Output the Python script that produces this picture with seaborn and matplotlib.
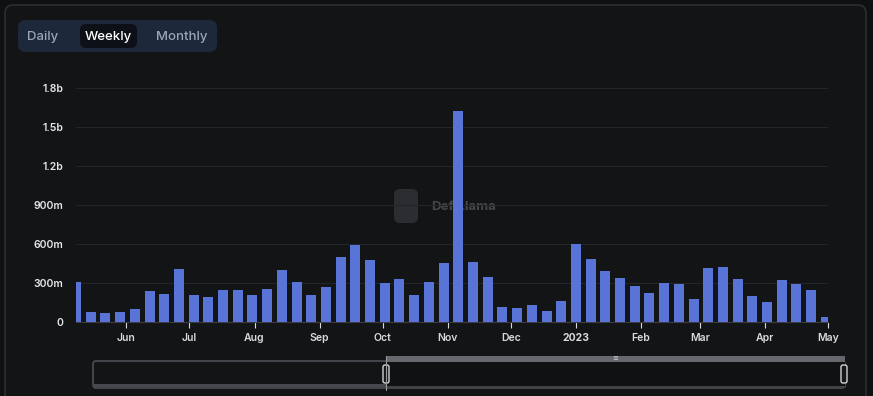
import numpy as np
import pandas as pd
import matplotlib
matplotlib.use("Agg")
import matplotlib.pyplot as plt
import matplotlib.dates as mdates
import seaborn as sns
from matplotlib.patches import FancyBboxPatch, Rectangle

# ---------------- data ----------------
first_week = "2022-05-08"
volumes_m = [310, 75, 70, 80, 100, 240, 215, 410, 210, 195, 250, 250, 210,
             255, 400, 308, 210, 270, 500, 592, 477, 300, 330, 210, 305, 455,
             1625, 462, 346, 115, 108, 130, 85, 162, 600, 485, 392, 338, 277,
             223, 300, 292, 177, 415, 423, 330, 200, 154, 323, 292, 246, 38]
y_ticks_m = [0, 300, 600, 900, 1200, 1500, 1800]
y_tick_labels = ["0", "300m", "600m", "900m", "1.2b", "1.5b", "1.8b"]
x_tick_dates = ["2022-06-01", "2022-07-01", "2022-08-01", "2022-09-01",
                "2022-10-01", "2022-11-01", "2022-12-01", "2023-01-01",
                "2023-02-01", "2023-03-01", "2023-04-01", "2023-05-01"]
x_tick_labels = ["Jun", "Jul", "Aug", "Sep", "Oct", "Nov", "Dec", "2023",
                 "Feb", "Mar", "Apr", "May"]
toggle_labels = ["Daily", "Weekly", "Monthly"]

weeks = pd.date_range(first_week, periods=len(volumes_m), freq="7D")
df = pd.DataFrame({"x": mdates.date2num(weeks),
                   "volume": np.array(volumes_m, dtype=float) * 1e6})

# ---------------- style ----------------
sns.set_theme(style="dark")
plt.rcParams["font.family"] = ["Inter", "DejaVu Sans"]

W, H = 873, 396
FIG_BG = "#0f1012"
CARD_BG = "#131416"
BAR = "#5874d6"

fig = plt.figure(figsize=(W / 100, H / 100), dpi=100, facecolor=FIG_BG)

# background / decoration axes in pixel coordinates
bg = fig.add_axes([0, 0, 1, 1], zorder=0)
bg.set_xlim(0, W)
bg.set_ylim(H, 0)
bg.axis("off")
bg.add_patch(FancyBboxPatch((5, 5), 861, 420, boxstyle="round,pad=0,rounding_size=8",
                            facecolor=CARD_BG, edgecolor="#2c2e33", lw=1.2))
# toggle group
bg.add_patch(FancyBboxPatch((18, 20), 199, 32, boxstyle="round,pad=0,rounding_size=8",
                            facecolor="#1d293a", edgecolor="none"))
bg.add_patch(FancyBboxPatch((80, 24), 57, 24, boxstyle="round,pad=0,rounding_size=6",
                            facecolor="#0d1117", edgecolor="none"))
for lbl, xc, col in zip(toggle_labels, [43, 108, 182], ["#9aa6b8", "#ffffff", "#9aa6b8"]):
    bg.text(xc, 37, lbl, ha="center", va="center", color=col, fontsize=9.5,
            fontweight="medium")

# watermark
bg.add_patch(FancyBboxPatch((394, 189), 24, 34, boxstyle="round,pad=0,rounding_size=6",
                            facecolor="#2c2d30", edgecolor="none"))
bg.text(431, 207, "DefiLlama", ha="left", va="center", color="#46474a",
        fontsize=9.5, fontweight="bold")

# brush / data zoom
bg.add_patch(FancyBboxPatch((93, 361), 752, 27, boxstyle="round,pad=0,rounding_size=3",
                            facecolor="none", edgecolor="#4b4e53", lw=1.2))
bg.add_patch(Rectangle((94, 384), 292, 3, facecolor="#45484d", edgecolor="none"))
bg.add_patch(Rectangle((386, 356), 459, 6, facecolor="#65686d", edgecolor="none"))
bg.add_patch(Rectangle((386, 362), 459, 26, facecolor="#101113", edgecolor="none"))
bg.plot([386, 845], [387, 387], color="#4b4e53", lw=1.2)
bg.plot([386, 386], [356, 390], color="#9a9ca0", lw=0.8)
for hx in (386, 844):
    bg.add_patch(FancyBboxPatch((hx - 3, 365), 6, 18, boxstyle="round,pad=0,rounding_size=2",
                                facecolor="#15171a", edgecolor="#d0d2d5", lw=1.0))
bg.text(615, 358, "≡", ha="center", va="center", color="#d0d2d5", fontsize=5)

# main chart axes
ax = fig.add_axes([76 / W, 1 - 322 / H, 752 / W, 234 / H], zorder=1)
ax.set_facecolor("none")
sns.barplot(data=df, x="x", y="volume", native_scale=True, width=0.68,
            color=BAR, saturation=1, ax=ax, zorder=3)
for p in ax.patches:
    p.set_edgecolor("none")

ax.set_xlim(mdates.date2num(pd.Timestamp(first_week)),
            mdates.date2num(pd.Timestamp("2023-05-01")))
ax.set_ylim(0, 1.8e9)
ax.set_yticks(np.array(y_ticks_m) * 1e6)
ax.set_yticklabels(y_tick_labels)
ax.set_xticks(mdates.date2num(pd.to_datetime(x_tick_dates)))
ax.set_xticklabels(x_tick_labels)
for t in ax.get_xticklabels():
    if t.get_text() == "2023":
        t.set_fontweight("bold")
        t.set_color("#ffffff")

ax.set_xlabel("")
ax.set_ylabel("")
ax.grid(axis="y", color="#232529", lw=0.8, zorder=0)
ax.grid(axis="x", visible=False)
ax.tick_params(axis="y", length=0, pad=9, labelsize=7.5, labelcolor="#e6e7e9")
ax.tick_params(axis="x", length=4, width=0.8, color="#d8d8d8", pad=4,
               labelsize=7.5, labelcolor="#d8dadd", direction="out", bottom=True)
for t in ax.get_yticklabels():
    t.set_fontweight("semibold")
for t in ax.get_xticklabels():
    if t.get_text() != "2023":
        t.set_fontweight("semibold")
for s in ["top", "right", "left"]:
    ax.spines[s].set_visible(False)
ax.spines["bottom"].set_color("#3a3c40")
ax.spines["bottom"].set_linewidth(0.8)
ax.set_axisbelow(True)

fig.savefig("out.png", dpi=100, facecolor=FIG_BG)
